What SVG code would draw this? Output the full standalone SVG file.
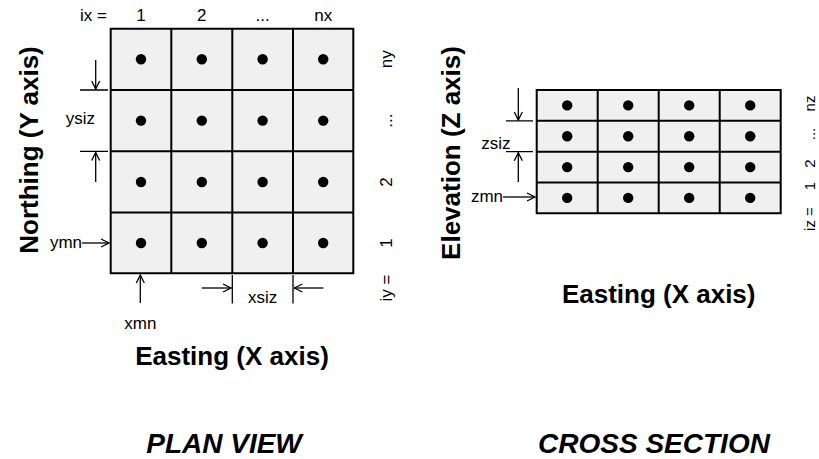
<svg xmlns="http://www.w3.org/2000/svg" width="819" height="459" viewBox="0 0 819 459">
  <style>
    .cell { fill: #f0f0f0; stroke: none; }
    .grid { fill: none; stroke: #000; stroke-width: 2; }
    .dot { fill: #000; }
    .lbl { font-family: "Liberation Sans", Arial, sans-serif; font-size: 17px; fill: #000; }
    .idx { font-family: "Liberation Sans", Arial, sans-serif; font-size: 15px; fill: #000; }
    .axis { font-family: "Liberation Sans", Arial, sans-serif; font-size: 26px; font-weight: bold; fill: #000; }
    .title { font-family: "Liberation Sans", Arial, sans-serif; font-size: 28px; font-weight: bold; font-style: italic; fill: #000; }
    .dim { fill: none; stroke: #000; stroke-width: 1.3; }
    .arr { fill: none; stroke: #000; stroke-width: 1.3; marker-end: url(#open); }
  </style>
  <defs>
    <marker id="open" viewBox="0 0 10 10" refX="9" refY="5" markerWidth="10" markerHeight="10" markerUnits="userSpaceOnUse" orient="auto">
      <path d="M1,1 L9,5 L1,9" fill="none" stroke="#000" stroke-width="1.3"/>
    </marker>
    <circle id="pt" r="5.2" class="dot"/>
  </defs>

  <rect width="819" height="459" fill="#fff"/>

  <!-- Plan view grid: 4 x 4 blocks -->
  <g id="plan-grid">
    <rect class="cell" x="110.7" y="28.7" width="242.6" height="244.6"/>
    <path class="grid" d="M110.7,28.7 H353.3 V273.3 H110.7 Z M171.3,28.7 V273.3 M232.3,28.7 V273.3 M293,28.7 V273.3 M110.7,90 H353.3 M110.7,151.3 H353.3 M110.7,212.6 H353.3"/>
    <g id="plan-centres">
      <use href="#pt" x="141" y="59.3"/><use href="#pt" x="201.8" y="59.3"/><use href="#pt" x="262.6" y="59.3"/><use href="#pt" x="323.2" y="59.3"/>
      <use href="#pt" x="141" y="120.6"/><use href="#pt" x="201.8" y="120.6"/><use href="#pt" x="262.6" y="120.6"/><use href="#pt" x="323.2" y="120.6"/>
      <use href="#pt" x="141" y="182"/><use href="#pt" x="201.8" y="182"/><use href="#pt" x="262.6" y="182"/><use href="#pt" x="323.2" y="182"/>
      <use href="#pt" x="141" y="243"/><use href="#pt" x="201.8" y="243"/><use href="#pt" x="262.6" y="243"/><use href="#pt" x="323.2" y="243"/>
    </g>
  </g>

  <!-- Cross section grid: 4 columns x 4 layers -->
  <g id="section-grid">
    <rect class="cell" x="536.7" y="90" width="244" height="123.3"/>
    <path class="grid" d="M536.7,90 H780.7 V213.3 H536.7 Z M597.7,90 V213.3 M658.7,90 V213.3 M719.7,90 V213.3 M536.7,120.8 H780.7 M536.7,151.7 H780.7 M536.7,182.5 H780.7"/>
    <g id="section-centres">
      <use href="#pt" x="567.2" y="105.4"/><use href="#pt" x="628.2" y="105.4"/><use href="#pt" x="689.2" y="105.4"/><use href="#pt" x="750.2" y="105.4"/>
      <use href="#pt" x="567.2" y="136.2"/><use href="#pt" x="628.2" y="136.2"/><use href="#pt" x="689.2" y="136.2"/><use href="#pt" x="750.2" y="136.2"/>
      <use href="#pt" x="567.2" y="167.1"/><use href="#pt" x="628.2" y="167.1"/><use href="#pt" x="689.2" y="167.1"/><use href="#pt" x="750.2" y="167.1"/>
      <use href="#pt" x="567.2" y="197.9"/><use href="#pt" x="628.2" y="197.9"/><use href="#pt" x="689.2" y="197.9"/><use href="#pt" x="750.2" y="197.9"/>
    </g>
  </g>

  <!-- Dimension lines and arrows -->
  <g id="connectors">
    <path class="dim" d="M80,90 H108 M80,151.3 H108"/>
    <line class="arr" x1="95.7" y1="60" x2="95.7" y2="89"/>
    <line class="arr" x1="95.7" y1="182" x2="95.7" y2="152.5"/>
    <line class="arr" x1="82" y1="243" x2="109" y2="243"/>
    <line class="arr" x1="140.3" y1="303" x2="140.3" y2="275"/>
    <path class="dim" d="M232.3,275 V303.5 M293,275 V303.5"/>
    <line class="arr" x1="201.7" y1="288" x2="231" y2="288"/>
    <line class="arr" x1="323.3" y1="288" x2="294.3" y2="288"/>

    <path class="dim" d="M506,120.8 H533 M506,151.7 H533"/>
    <line class="arr" x1="518.3" y1="88" x2="518.3" y2="120"/>
    <line class="arr" x1="518.3" y1="182" x2="518.3" y2="152.7"/>
    <line class="arr" x1="503" y1="197" x2="535" y2="197"/>
  </g>

  <!-- Plan view labels -->
  <g id="plan-labels">
    <text class="lbl" x="80" y="21">ix =</text>
    <text class="lbl" x="141" y="21" text-anchor="middle">1</text>
    <text class="lbl" x="201.8" y="21" text-anchor="middle">2</text>
    <text class="lbl" x="262.6" y="21" text-anchor="middle">...</text>
    <text class="lbl" x="323.2" y="21" text-anchor="middle">nx</text>
    <text class="lbl" x="392" y="59.3" text-anchor="middle" transform="rotate(-90 392 59.3)">ny</text>
    <text class="lbl" x="392" y="120.6" text-anchor="middle" transform="rotate(-90 392 120.6)">...</text>
    <text class="lbl" x="392" y="182" text-anchor="middle" transform="rotate(-90 392 182)">2</text>
    <text class="lbl" x="392" y="243" text-anchor="middle" transform="rotate(-90 392 243)">1</text>
    <text class="lbl" x="392" y="288" text-anchor="middle" transform="rotate(-90 392 288)">iy =</text>
    <text class="lbl" x="95" y="124" text-anchor="end">ysiz</text>
    <text class="lbl" x="82" y="248" text-anchor="end">ymn</text>
    <text class="lbl" x="140.3" y="329" text-anchor="middle">xmn</text>
    <text class="lbl" x="262.6" y="303" text-anchor="middle">xsiz</text>
    <text class="axis" x="38" y="150" text-anchor="middle" transform="rotate(-90 38 150)">Northing (Y axis)</text>
    <text class="axis" x="232" y="365" text-anchor="middle">Easting (X axis)</text>
    <text class="title" x="224" y="453" text-anchor="middle">PLAN VIEW</text>
  </g>

  <!-- Cross section labels -->
  <g id="section-labels">
    <text class="lbl" x="510.5" y="149" text-anchor="end">zsiz</text>
    <text class="lbl" x="503" y="202" text-anchor="end">zmn</text>
    <text class="idx" x="815" y="103.5" text-anchor="middle" transform="rotate(-90 815 103.5)">nz</text>
    <text class="idx" x="815" y="134" text-anchor="middle" transform="rotate(-90 815 134)">...</text>
    <text class="idx" x="815" y="163.5" text-anchor="middle" transform="rotate(-90 815 163.5)">2</text>
    <text class="idx" x="815" y="186" text-anchor="middle" transform="rotate(-90 815 186)">1</text>
    <text class="idx" x="815" y="219" text-anchor="middle" transform="rotate(-90 815 219)">iz =</text>
    <text class="axis" x="460" y="153" text-anchor="middle" transform="rotate(-90 460 153)">Elevation (Z axis)</text>
    <text class="axis" x="658.7" y="303" text-anchor="middle">Easting (X axis)</text>
    <text class="title" x="654" y="453" text-anchor="middle">CROSS SECTION</text>
  </g>
</svg>
